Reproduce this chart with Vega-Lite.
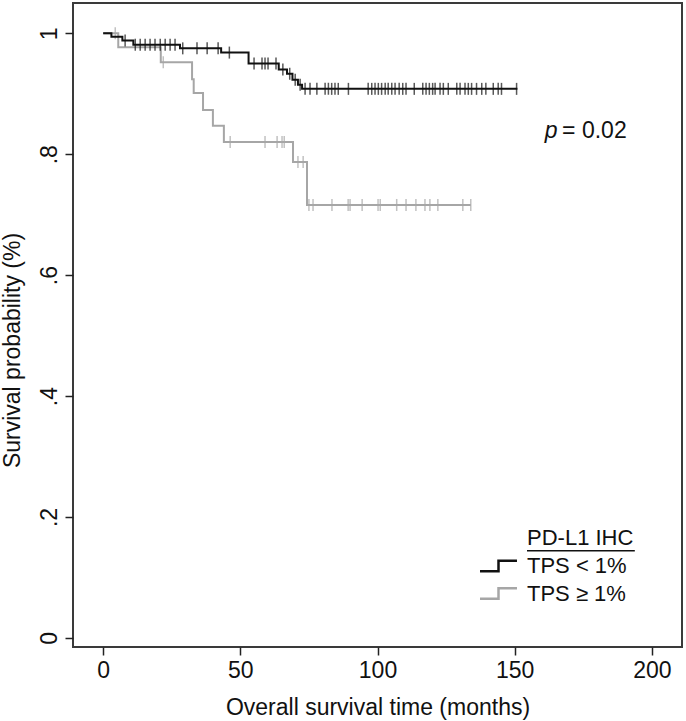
{
  "$schema": "https://vega.github.io/schema/vega-lite/v6.json",
  "width": 609,
  "height": 644,
  "autosize": {"type": "none"},
  "padding": {"left": 73, "top": 3, "right": 4, "bottom": 74},
  "background": "white",
  "config": {
    "font": "Liberation Sans",
    "view": {"stroke": "#3a3a3a", "strokeWidth": 2},
    "axis": {
      "grid": false, "domain": false, "tickColor": "#222", "tickSize": 8, "tickWidth": 1.5,
      "labelFontSize": 23, "titleFontSize": 23, "labelColor": "#111", "titleColor": "#111",
      "titleFontWeight": "normal", "labelFont": "Liberation Sans", "titleFont": "Liberation Sans"
    }
  },
  "datasets": {
    "km": [
      {"group": "TPS ≥ 1%", "t": 0, "s": 1.0},
      {"group": "TPS ≥ 1%", "t": 5.5, "s": 0.977},
      {"group": "TPS ≥ 1%", "t": 21, "s": 0.952},
      {"group": "TPS ≥ 1%", "t": 32.4, "s": 0.924},
      {"group": "TPS ≥ 1%", "t": 33, "s": 0.901},
      {"group": "TPS ≥ 1%", "t": 36.4, "s": 0.873},
      {"group": "TPS ≥ 1%", "t": 40, "s": 0.847},
      {"group": "TPS ≥ 1%", "t": 44, "s": 0.820},
      {"group": "TPS ≥ 1%", "t": 69.2, "s": 0.787},
      {"group": "TPS ≥ 1%", "t": 74.3, "s": 0.716},
      {"group": "TPS ≥ 1%", "t": 134, "s": 0.716},
      {"group": "TPS < 1%", "t": 0, "s": 1.0},
      {"group": "TPS < 1%", "t": 3, "s": 0.994},
      {"group": "TPS < 1%", "t": 7, "s": 0.988},
      {"group": "TPS < 1%", "t": 11, "s": 0.981},
      {"group": "TPS < 1%", "t": 28, "s": 0.975},
      {"group": "TPS < 1%", "t": 43, "s": 0.968},
      {"group": "TPS < 1%", "t": 53, "s": 0.950},
      {"group": "TPS < 1%", "t": 64, "s": 0.940},
      {"group": "TPS < 1%", "t": 67, "s": 0.933},
      {"group": "TPS < 1%", "t": 69, "s": 0.923},
      {"group": "TPS < 1%", "t": 71, "s": 0.915},
      {"group": "TPS < 1%", "t": 72.5, "s": 0.908},
      {"group": "TPS < 1%", "t": 151, "s": 0.908}
    ],
    "cens": [
      {"group": "TPS ≥ 1%", "t": 4.4, "s": 1.0},
      {"group": "TPS ≥ 1%", "t": 21.9, "s": 0.952},
      {"group": "TPS ≥ 1%", "t": 46.3, "s": 0.820},
      {"group": "TPS ≥ 1%", "t": 59, "s": 0.820},
      {"group": "TPS ≥ 1%", "t": 63.4, "s": 0.820},
      {"group": "TPS ≥ 1%", "t": 65.2, "s": 0.820},
      {"group": "TPS ≥ 1%", "t": 66, "s": 0.820},
      {"group": "TPS ≥ 1%", "t": 71, "s": 0.787},
      {"group": "TPS ≥ 1%", "t": 72.9, "s": 0.787},
      {"group": "TPS ≥ 1%", "t": 75, "s": 0.716},
      {"group": "TPS ≥ 1%", "t": 76.5, "s": 0.716},
      {"group": "TPS ≥ 1%", "t": 83.4, "s": 0.716},
      {"group": "TPS ≥ 1%", "t": 89.3, "s": 0.716},
      {"group": "TPS ≥ 1%", "t": 90, "s": 0.716},
      {"group": "TPS ≥ 1%", "t": 94.4, "s": 0.716},
      {"group": "TPS ≥ 1%", "t": 100.2, "s": 0.716},
      {"group": "TPS ≥ 1%", "t": 101, "s": 0.716},
      {"group": "TPS ≥ 1%", "t": 107, "s": 0.716},
      {"group": "TPS ≥ 1%", "t": 110.4, "s": 0.716},
      {"group": "TPS ≥ 1%", "t": 114, "s": 0.716},
      {"group": "TPS ≥ 1%", "t": 117.3, "s": 0.716},
      {"group": "TPS ≥ 1%", "t": 119.1, "s": 0.716},
      {"group": "TPS ≥ 1%", "t": 122, "s": 0.716},
      {"group": "TPS ≥ 1%", "t": 131.1, "s": 0.716},
      {"group": "TPS ≥ 1%", "t": 134, "s": 0.716},
      {"group": "TPS < 1%", "t": 8, "s": 0.988},
      {"group": "TPS < 1%", "t": 11.7, "s": 0.981},
      {"group": "TPS < 1%", "t": 13.5, "s": 0.981},
      {"group": "TPS < 1%", "t": 15.3, "s": 0.981},
      {"group": "TPS < 1%", "t": 17.1, "s": 0.981},
      {"group": "TPS < 1%", "t": 18.9, "s": 0.981},
      {"group": "TPS < 1%", "t": 20.8, "s": 0.981},
      {"group": "TPS < 1%", "t": 22.6, "s": 0.981},
      {"group": "TPS < 1%", "t": 24.4, "s": 0.981},
      {"group": "TPS < 1%", "t": 26.2, "s": 0.981},
      {"group": "TPS < 1%", "t": 29, "s": 0.975},
      {"group": "TPS < 1%", "t": 34.2, "s": 0.975},
      {"group": "TPS < 1%", "t": 37.9, "s": 0.975},
      {"group": "TPS < 1%", "t": 41.9, "s": 0.975},
      {"group": "TPS < 1%", "t": 46, "s": 0.968},
      {"group": "TPS < 1%", "t": 55, "s": 0.950},
      {"group": "TPS < 1%", "t": 57.9, "s": 0.950},
      {"group": "TPS < 1%", "t": 59, "s": 0.950},
      {"group": "TPS < 1%", "t": 60.1, "s": 0.950},
      {"group": "TPS < 1%", "t": 63, "s": 0.950},
      {"group": "TPS < 1%", "t": 65.5, "s": 0.940},
      {"group": "TPS < 1%", "t": 68, "s": 0.933},
      {"group": "TPS < 1%", "t": 70, "s": 0.923},
      {"group": "TPS < 1%", "t": 71.8, "s": 0.915},
      {"group": "TPS < 1%", "t": 73.6, "s": 0.908},
      {"group": "TPS < 1%", "t": 75.4, "s": 0.908},
      {"group": "TPS < 1%", "t": 77.9, "s": 0.908},
      {"group": "TPS < 1%", "t": 80.9, "s": 0.908},
      {"group": "TPS < 1%", "t": 82.1, "s": 0.908},
      {"group": "TPS < 1%", "t": 83.3, "s": 0.908},
      {"group": "TPS < 1%", "t": 84.5, "s": 0.908},
      {"group": "TPS < 1%", "t": 85.7, "s": 0.908},
      {"group": "TPS < 1%", "t": 89.4, "s": 0.908},
      {"group": "TPS < 1%", "t": 96.6, "s": 0.908},
      {"group": "TPS < 1%", "t": 97.9, "s": 0.908},
      {"group": "TPS < 1%", "t": 99.1, "s": 0.908},
      {"group": "TPS < 1%", "t": 100.3, "s": 0.908},
      {"group": "TPS < 1%", "t": 101.5, "s": 0.908},
      {"group": "TPS < 1%", "t": 102.8, "s": 0.908},
      {"group": "TPS < 1%", "t": 103.9, "s": 0.908},
      {"group": "TPS < 1%", "t": 105.2, "s": 0.908},
      {"group": "TPS < 1%", "t": 106.4, "s": 0.908},
      {"group": "TPS < 1%", "t": 107.9, "s": 0.908},
      {"group": "TPS < 1%", "t": 109.2, "s": 0.908},
      {"group": "TPS < 1%", "t": 110.4, "s": 0.908},
      {"group": "TPS < 1%", "t": 113.4, "s": 0.908},
      {"group": "TPS < 1%", "t": 116.5, "s": 0.908},
      {"group": "TPS < 1%", "t": 117.7, "s": 0.908},
      {"group": "TPS < 1%", "t": 118.9, "s": 0.908},
      {"group": "TPS < 1%", "t": 120.1, "s": 0.908},
      {"group": "TPS < 1%", "t": 121, "s": 0.908},
      {"group": "TPS < 1%", "t": 122.8, "s": 0.908},
      {"group": "TPS < 1%", "t": 124, "s": 0.908},
      {"group": "TPS < 1%", "t": 125.8, "s": 0.908},
      {"group": "TPS < 1%", "t": 128.9, "s": 0.908},
      {"group": "TPS < 1%", "t": 130.1, "s": 0.908},
      {"group": "TPS < 1%", "t": 131.9, "s": 0.908},
      {"group": "TPS < 1%", "t": 133.1, "s": 0.908},
      {"group": "TPS < 1%", "t": 134.3, "s": 0.908},
      {"group": "TPS < 1%", "t": 136.1, "s": 0.908},
      {"group": "TPS < 1%", "t": 138, "s": 0.908},
      {"group": "TPS < 1%", "t": 139.5, "s": 0.908},
      {"group": "TPS < 1%", "t": 142.2, "s": 0.908},
      {"group": "TPS < 1%", "t": 144, "s": 0.908},
      {"group": "TPS < 1%", "t": 145.2, "s": 0.908},
      {"group": "TPS < 1%", "t": 150.7, "s": 0.908}
    ],
    "pval_p": [{"t": 161, "s": 0.838, "label": "p"}],
    "pval_rest": [{"t": 167.3, "s": 0.838, "label": "= 0.02"}],
    "legtitle": [{"t": 154.5, "s": 0.165, "label": "PD-L1 IHC"}],
    "underline": [{"t": 154.5, "t2": 193.8, "s": 0.144}]
  },
  "layer": [
    {
      "data": {"name": "km"},
      "transform": [{"filter": "datum.group === 'TPS ≥ 1%'"}],
      "mark": {"type": "line", "interpolate": "step-after", "strokeWidth": 2},
      "encoding": {
        "x": {"field": "t", "type": "quantitative",
              "scale": {"domain": [-11, 211], "nice": false, "zero": false},
              "axis": {"title": "Overall survival time (months)", "values": [0, 50, 100, 150, 200], "labelPadding": 4, "titlePadding": 14}},
        "y": {"field": "s", "type": "quantitative",
              "scale": {"domain": [-0.015, 1.05], "nice": false, "zero": false},
              "axis": {"title": "Survival probability (%)", "values": [0, 0.2, 0.4, 0.6, 0.8, 1],
                       "labelExpr": "datum.value == 0 ? '0' : datum.value == 1 ? '1' : '.' + round(datum.value * 10)",
                       "labelAngle": -90, "labelAlign": "center", "labelBaseline": "bottom", "labelPadding": 4,
                       "titleX": -61, "titleY": 347, "titleBaseline": "middle", "titleAngle": -90}},
        "color": {"field": "group", "type": "nominal",
                  "scale": {"domain": ["TPS < 1%", "TPS ≥ 1%"], "range": ["#111111", "#a6a6a6"]},
                  "legend": {"orient": "none", "legendX": 414.5, "legendY": 552, "title": null,
                             "labelFontSize": 22, "labelColor": "#111", "symbolType": "M-2.64,0.75H0V-0.75H2.64",
                             "symbolSize": 196, "symbolStrokeWidth": 2.5, "rowPadding": 5.5,
                             "padding": 0, "labelOffset": 17.5}}
      }
    },
    {
      "data": {"name": "cens"},
      "transform": [{"filter": "datum.group === 'TPS ≥ 1%'"}],
      "mark": {"type": "tick", "orient": "vertical", "size": 12, "thickness": 1.5, "color": "#a6a6a6"},
      "encoding": {"x": {"field": "t", "type": "quantitative"}, "y": {"field": "s", "type": "quantitative"}}
    },
    {
      "data": {"name": "km"},
      "transform": [{"filter": "datum.group === 'TPS < 1%'"}],
      "mark": {"type": "line", "interpolate": "step-after", "strokeWidth": 2},
      "encoding": {
        "x": {"field": "t", "type": "quantitative"},
        "y": {"field": "s", "type": "quantitative"},
        "color": {"field": "group", "type": "nominal"}
      }
    },
    {
      "data": {"name": "cens"},
      "transform": [{"filter": "datum.group === 'TPS < 1%'"}],
      "mark": {"type": "tick", "orient": "vertical", "size": 12, "thickness": 1.5, "color": "#111111"},
      "encoding": {"x": {"field": "t", "type": "quantitative"}, "y": {"field": "s", "type": "quantitative"}}
    },
    {
      "data": {"name": "pval_p"},
      "mark": {"type": "text", "fontSize": 23, "fontStyle": "italic", "align": "left", "baseline": "middle", "color": "#111"},
      "encoding": {"x": {"field": "t", "type": "quantitative"}, "y": {"field": "s", "type": "quantitative"}, "text": {"field": "label"}}
    },
    {
      "data": {"name": "pval_rest"},
      "mark": {"type": "text", "fontSize": 23, "align": "left", "baseline": "middle", "color": "#111"},
      "encoding": {"x": {"field": "t", "type": "quantitative"}, "y": {"field": "s", "type": "quantitative"}, "text": {"field": "label"}}
    },
    {
      "data": {"name": "legtitle"},
      "mark": {"type": "text", "fontSize": 22, "align": "left", "baseline": "middle", "color": "#111"},
      "encoding": {"x": {"field": "t", "type": "quantitative"}, "y": {"field": "s", "type": "quantitative"}, "text": {"field": "label"}}
    },
    {
      "data": {"name": "underline"},
      "mark": {"type": "rule", "strokeWidth": 1.5, "color": "#111"},
      "encoding": {"x": {"field": "t", "type": "quantitative"}, "x2": {"field": "t2"}, "y": {"field": "s", "type": "quantitative"}}
    }
  ]
}
